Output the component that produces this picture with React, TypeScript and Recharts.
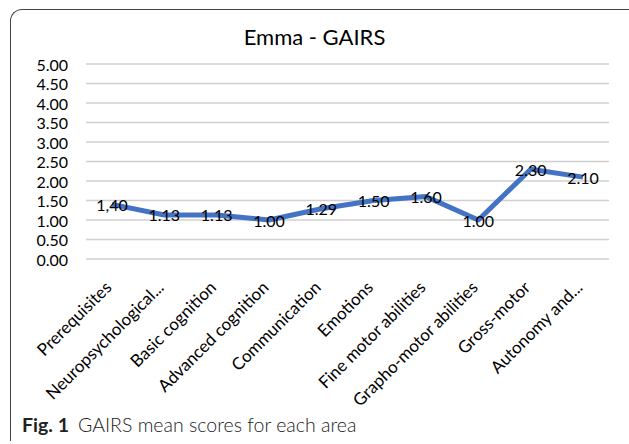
import React from 'react';
import { LineChart, Line, XAxis, YAxis, CartesianGrid, LabelList } from 'recharts';

const categories = [
  'Prerequisites',
  'Neuropsychological...',
  'Basic cognition',
  'Advanced cognition',
  'Communication',
  'Emotions',
  'Fine motor abilities',
  'Grapho-motor abilities',
  'Gross-motor',
  'Autonomy and...',
];
const scores = [1.4, 1.13, 1.13, 1.0, 1.29, 1.5, 1.6, 1.0, 2.3, 2.1];
const scoreLabels = ['1,40', '1.13', '1.13', '1.00', '1.29', '1.50', '1.60', '1.00', '2.30', '2.10'];
const yTicks = [0, 0.5, 1, 1.5, 2, 2.5, 3, 3.5, 4, 4.5, 5];

const data = categories.map((area, i) => ({ area, score: scores[i], label: scoreLabels[i] }));

const FONT = 'Lato, "Open Sans", sans-serif';

const XTick = (props: any) => {
  const { x, y, payload } = props;
  return (
    <g transform={`translate(${x - 4},${y + 17})`}>
      <text
        x={0}
        y={0}
        textAnchor="end"
        dominantBaseline="central"
        transform="rotate(-45)"
        fontSize={17}
        fontFamily={FONT}
        fill="#000"
      >
        {payload.value}
      </text>
    </g>
  );
};

const YTick = (props: any) => {
  const { x, y, payload } = props;
  return (
    <text x={x - 10} y={y} textAnchor="end" dominantBaseline="central" fontSize={16} fontFamily={FONT} fill="#000">
      {payload.value.toFixed(2)}
    </text>
  );
};

const PointLabel = (props: any) => {
  const { x, y, index } = props;
  return (
    <text x={x} y={y} textAnchor="middle" dominantBaseline="central" fontSize={16} fontFamily={FONT} fill="#000">
      {scoreLabels[index]}
    </text>
  );
};

export default function App() {
  return (
    <div style={{ position: 'fixed', left: 0, top: 0, width: 629, height: 444, background: '#fff' }}>
      <div
        style={{
          position: 'absolute',
          left: 10,
          top: 9,
          width: 640,
          height: 431,
          borderTop: '1.5px solid #444',
          borderLeft: '1.5px solid #444',
          borderTopLeftRadius: 12,
        }}
      />
      <div
        style={{
          position: 'absolute',
          left: 0,
          width: 629,
          top: 23,
          textAlign: 'center',
          fontFamily: FONT,
          fontSize: 22,
          color: '#000',
        }}
      >
        Emma - GAIRS
      </div>
      <div style={{ position: 'absolute', left: 0, top: 0 }}>
        <LineChart width={629} height={444} data={data} margin={{ top: 64, right: 20, left: 26, bottom: 175 }}>
          <CartesianGrid horizontal vertical={false} stroke="#d0d0d0" strokeWidth={1.3} />
          <XAxis
            dataKey="area"
            axisLine={false}
            tickLine={false}
            interval={0}
            padding={{ left: 26, right: 26 }}
            tick={<XTick />}
            height={10}
          />
          <YAxis
            domain={[0, 5]}
            ticks={yTicks}
            axisLine={false}
            tickLine={false}
            width={60}
            interval={0}
            tick={<YTick />}
          />
          <Line
            type="linear"
            dataKey="score"
            stroke="#4472C4"
            strokeWidth={5}
            strokeLinejoin="round"
            dot={false}
            activeDot={false}
            isAnimationActive={false}
          >
            <LabelList dataKey="label" content={<PointLabel />} />
          </Line>
        </LineChart>
      </div>
      <div
        style={{
          position: 'absolute',
          left: 22,
          top: 413,
          fontFamily: FONT,
          fontSize: 19.5,
          color: '#222',
          whiteSpace: 'nowrap',
        }}
      >
        <span style={{ fontWeight: 700 }}>Fig. 1</span>
        <span style={{ marginLeft: 9, fontWeight: 300 }}>GAIRS mean scores for each area</span>
      </div>
    </div>
  );
}
